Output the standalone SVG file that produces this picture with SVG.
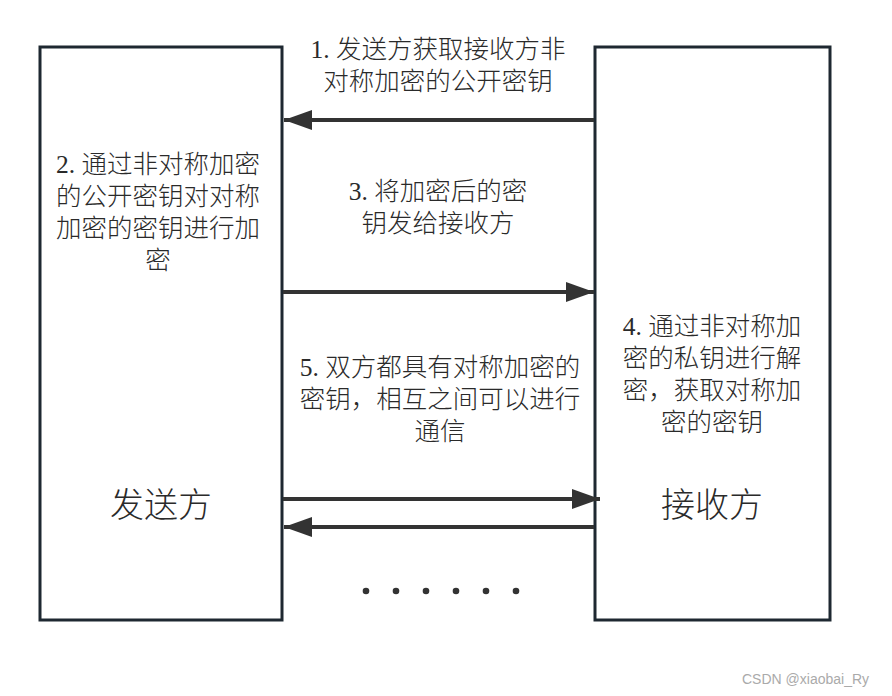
<svg xmlns="http://www.w3.org/2000/svg" width="892" height="696" viewBox="0 0 892 696">
<style>
.box{fill:#fff;stroke:#1e2831;stroke-width:3}
.t{font-family:"Liberation Serif","Noto Sans CJK SC",serif;font-size:25.5px;font-weight:300;fill:#2a2a2a;text-anchor:middle}
.big{font-family:"Liberation Serif","Noto Sans CJK SC",serif;font-size:34px;font-weight:300;fill:#2a2a2a;text-anchor:middle}
.ln{stroke:#333;stroke-width:4;fill:none}
.wm{font-family:"Liberation Sans",sans-serif;font-size:14px;fill:#aaa}
</style>
<defs>
<marker id="ah" viewBox="0 0 28 20" refX="28" refY="10" markerWidth="28" markerHeight="20" markerUnits="userSpaceOnUse" orient="auto">
<path d="M0,0 L28,10 L0,20 Z" fill="#333"/>
</marker>
</defs>
<rect width="892" height="696" fill="#fff"/>
<g id="sender">
<rect class="box" x="40" y="47" width="242" height="573"/>
<text class="t" x="158" y="173">2. 通过非对称加密</text>
<text class="t" x="158" y="205">的公开密钥对对称</text>
<text class="t" x="158" y="237">加密的密钥进行加</text>
<text class="t" x="158" y="269">密</text>
<text class="big" x="161" y="517">发送方</text>
</g>
<g id="receiver">
<rect class="box" x="595" y="47" width="235" height="573"/>
<text class="t" x="712" y="335">4. 通过非对称加</text>
<text class="t" x="712" y="367">密的私钥进行解</text>
<text class="t" x="712" y="399">密，获取对称加</text>
<text class="t" x="712" y="431">密的密钥</text>
<text class="big" x="712" y="517">接收方</text>
</g>
<g id="labels">
<text class="t" x="438" y="58">1. 发送方获取接收方非</text>
<text class="t" x="438" y="90">对称加密的公开密钥</text>
<text class="t" x="438" y="200">3. 将加密后的密</text>
<text class="t" x="438" y="232">钥发给接收方</text>
<text class="t" x="440" y="376">5. 双方都具有对称加密的</text>
<text class="t" x="440" y="408">密钥，相互之间可以进行</text>
<text class="t" x="440" y="440">通信</text>
</g>
<g id="connectors">
<line class="ln" x1="594" y1="120" x2="284" y2="120" marker-end="url(#ah)"/>
<line class="ln" x1="283" y1="292" x2="594" y2="292" marker-end="url(#ah)"/>
<line class="ln" x1="283" y1="499" x2="600" y2="499" marker-end="url(#ah)"/>
<line class="ln" x1="594" y1="527" x2="284" y2="527" marker-end="url(#ah)"/>
</g>
<g id="dots" fill="#333">
<circle cx="366" cy="591" r="3.3"/>
<circle cx="396" cy="591" r="3.3"/>
<circle cx="426" cy="591" r="3.3"/>
<circle cx="456" cy="591" r="3.3"/>
<circle cx="486" cy="591" r="3.3"/>
<circle cx="516" cy="591" r="3.3"/>
</g>
<text class="wm" x="742" y="684">CSDN @xiaobai_Ry</text>
</svg>
